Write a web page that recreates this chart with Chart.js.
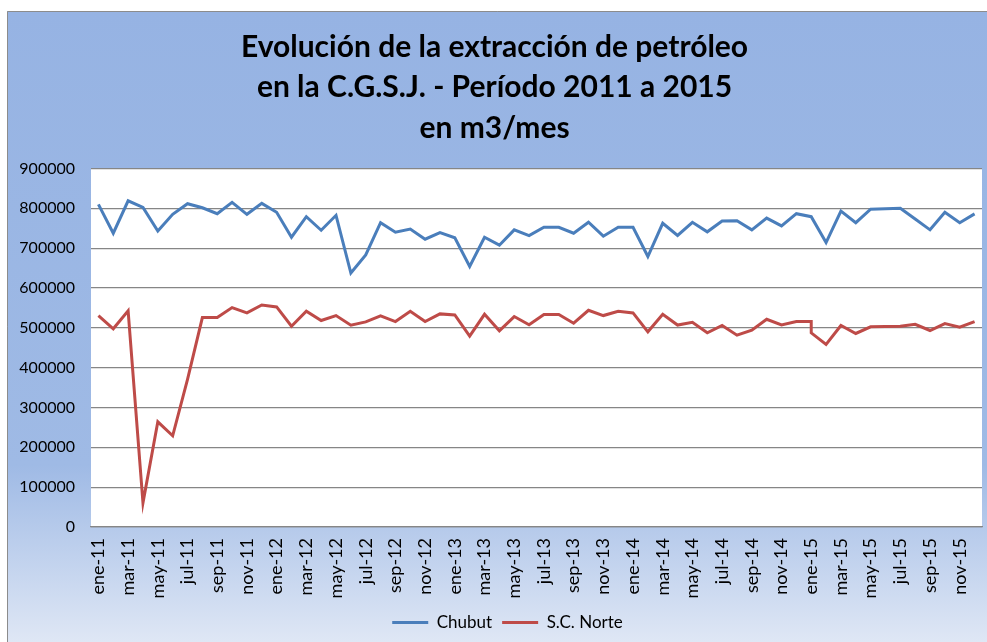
<!DOCTYPE html>
<html>
<head>
<meta charset="utf-8">
<script src="https://cdn.jsdelivr.net/npm/chart.js@4"></script>
<style>
  html, body { margin: 0; padding: 0; background: #fff; }
  #wrap { width: 987px; height: 642px; }
</style>
</head>
<body>
<div id="wrap"><canvas id="chart" width="987" height="642"></canvas></div>
<script>
// meses en español, un label por mes de 2011 a 2015
const monthNames = ['ene', 'feb', 'mar', 'abr', 'may', 'jun', 'jul', 'ago', 'sep', 'oct', 'nov', 'dic'];
const years = ['11', '12', '13', '14', '15'];

const chubut = [
  810000, 737500, 819000, 802500, 743000, 785000, 811500, 801500, 786500, 815000, 785000, 812500,
  790000, 727500, 779000, 745000, 782500, 637500, 683000, 764000, 740000, 748000, 722500, 739000,
  726000, 654000, 727500, 707500, 746000, 731500, 752500, 752500, 737500, 765000, 730000, 752500,
  752500, 679000, 762500, 732000, 765000, 741000, 768000, 769000, 746000, 775500, 756000, 786500,
  779000, 714000, 793000, 764000, 798000, 799000, 800000, 773000, 746000, 790000, 764000, 786000
];

const scNorte = [
  530800, 497500, 542500, 60800, 264000, 229000, 370800, 525800, 525800, 550800, 537500, 557500,
  552500, 504000, 541600, 518300, 530800, 506600, 515000, 530000, 515800, 541600, 515800, 535000,
  532500, 479000, 534000, 492500, 528300, 507500, 533300, 533300, 511600, 544000, 530800, 541600,
  537500, 490000, 534000, 507000, 514000, 487500, 505800, 481600, 494000, 521600, 507500, 515800,
  515700, 458300, 505800, 485800, 502500, 503300, 504000, 509000, 493300, 510800, 501600, 515800
];
// en ene-15 la serie S.C. Norte baja en vertical hasta este valor
const scNorteStepMonth = 'ene-15';
const scNorteStepValue = 487500;

const yTicks = [0, 100000, 200000, 300000, 400000, 500000, 600000, 700000, 800000, 900000];

const months = [];
years.forEach(y => monthNames.forEach(m => months.push(m + '-' + y)));

const scNortePoints = [];
months.forEach((m, i) => {
  scNortePoints.push({ x: m, y: scNorte[i] });
  if (m === scNorteStepMonth) scNortePoints.push({ x: m, y: scNorteStepValue });
});

const FONT = "Lato, 'Open Sans', sans-serif";

// fondo azul degradado del gráfico y área de trazado blanca
const background = {
  id: 'background',
  afterLayout(chart) {
    // la leyenda del original está algo corrida a la derecha
    chart.legend.left += 13;
    chart.legend.right += 13;
  },
  beforeDraw(chart) {
    const { ctx, chartArea: a } = chart;
    ctx.save();
    ctx.fillStyle = '#ffffff';
    ctx.fillRect(0, 0, chart.width, chart.height);
    const g = ctx.createLinearGradient(0, 11, 0, chart.height);
    g.addColorStop(0, '#96b3e3');
    g.addColorStop(0.72, '#9fbae5');
    g.addColorStop(1, '#dfe7f5');
    ctx.fillStyle = g;
    ctx.fillRect(7, 11, chart.width - 7, chart.height - 11);
    ctx.strokeStyle = '#8c8c8c';
    ctx.lineWidth = 1;
    ctx.beginPath();
    ctx.moveTo(7.5, chart.height);
    ctx.lineTo(7.5, 11.5);
    ctx.lineTo(chart.width, 11.5);
    ctx.stroke();
    ctx.fillStyle = '#ffffff';
    ctx.fillRect(a.left, a.top, a.right - a.left, a.bottom - a.top);
    ctx.restore();
  }
};

new Chart(document.getElementById('chart'), {
  type: 'line',
  data: {
    labels: months,
    datasets: [
      {
        label: 'Chubut',
        data: chubut,
        borderColor: '#4a7ebb',
        backgroundColor: '#4a7ebb',
        borderWidth: 3,
        pointRadius: 0,
        tension: 0
      },
      {
        label: 'S.C. Norte',
        data: scNortePoints,
        borderColor: '#be4b48',
        backgroundColor: '#be4b48',
        borderWidth: 3,
        pointRadius: 0,
        tension: 0
      }
    ]
  },
  options: {
    responsive: false,
    animation: false,
    layout: { padding: { left: 7, top: 11, right: 5, bottom: 1 } },
    plugins: {
      title: {
        display: true,
        text: ['Evolución de la extracción de petróleo', 'en la C.G.S.J. - Período 2011 a 2015', 'en m3/mes'],
        color: '#000',
        font: { family: FONT, size: 30, weight: 'bold', lineHeight: 1.35 },
        padding: { top: 16, bottom: 20 }
      },
      legend: {
        position: 'bottom',
        labels: {
          color: '#000',
          font: { family: FONT, size: 17 },
          boxWidth: 36,
          boxHeight: 3,
          padding: 10,
          generateLabels(chart) {
            return chart.data.datasets.map((ds, i) => ({
              text: ds.label,
              fillStyle: ds.borderColor,
              strokeStyle: ds.borderColor,
              lineWidth: 0,
              datasetIndex: i
            }));
          }
        }
      },
      tooltip: { enabled: false }
    },
    scales: {
      x: {
        type: 'category',
        offset: true,
        grid: { display: false, drawTicks: false },
        border: { display: true, color: '#868686', width: 1.3 },
        ticks: {
          autoSkip: false,
          minRotation: 90,
          maxRotation: 90,
          padding: 11,
          color: '#000',
          font: { family: FONT, size: 18 },
          callback(v, i) { return i % 2 === 0 ? months[i] : ''; }
        },
        afterFit(s) { s.height = 77; s.paddingLeft = 0; s.paddingRight = 0; }
      },
      y: {
        min: 0,
        max: 900000,
        afterBuildTicks(s) { s.ticks = yTicks.map(v => ({ value: v })); },
        grid: { color: '#868686', lineWidth: 1.3, drawTicks: false },
        border: { display: false },
        ticks: {
          padding: 16,
          color: '#000',
          font: { family: FONT, size: 16 },
          callback(v) { return String(v); }
        },
        afterFit(s) { s.width = 84; }
      }
    }
  },
  plugins: [background]
});
</script>
</body>
</html>
